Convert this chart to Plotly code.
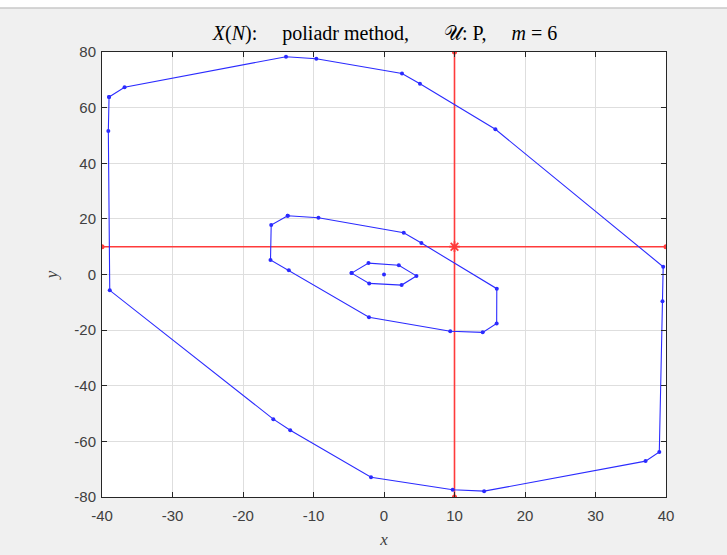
import plotly.graph_objects as go

# Outer polygon vertices (closed)
outer_x = [-39.0, -36.8, -13.9, -9.6, 2.55, 5.1, 15.8, 39.6, 39.5, 39.05, 37.1,
           14.2, 9.74, -1.84, -13.3, -15.7, -38.9, -39.1, -39.0]
outer_y = [63.8, 67.3, 78.3, 77.6, 72.3, 68.6, 52.2, 2.8, -9.6, -63.8, -67.1,
           -77.9, -77.4, -72.9, -56.0, -52.0, -5.7, 51.6, 63.8]

# Middle polygon vertices (closed)
mid_x = [-13.66, -9.3, 2.8, 5.3, 16.0, 15.98, 14.0, 9.4, -2.13, -13.5, -16.1, -16.0, -13.66]
mid_y = [21.1, 20.4, 15.0, 11.3, -5.1, -17.6, -20.8, -20.4, -15.4, 1.5, 5.2, 17.8, 21.1]

# Inner hexagon (closed)
inner_x = [-4.6, -2.2, 2.1, 4.6, 2.5, -2.1, -4.6]
inner_y = [0.5, 4.1, 3.3, -0.5, -3.8, -3.2, 0.5]

# Centre point
center_x = [0.0]
center_y = [0.0]

# Target point and its cross-hair
target_x = 10
target_y = 10
x_range = [-40, 40]
y_range = [-80, 80]

x_ticks = [-40, -30, -20, -10, 0, 10, 20, 30, 40]
y_ticks = [-80, -60, -40, -20, 0, 20, 40, 60, 80]
x_ticktext = ["-40", "-30", "-20", "-10", "0", "10", "20", "30", "40"]
y_ticktext = ["-80", "-60", "-40", "-20", "0", "20", "40", "60", "80"]

blue = "#2b2bff"
red = "#ff3b3b"

fig = go.Figure()

# Cross-hair lines through the target
fig.add_trace(go.Scatter(x=x_range, y=[target_y, target_y], mode="lines+markers",
                         line=dict(color=red, width=1.6),
                         marker=dict(color=red, size=5), hoverinfo="skip"))
fig.add_trace(go.Scatter(x=[target_x, target_x], y=y_range, mode="lines+markers",
                         line=dict(color=red, width=1.6),
                         marker=dict(color=red, size=5), hoverinfo="skip"))

for xs, ys in [(outer_x, outer_y), (mid_x, mid_y), (inner_x, inner_y)]:
    fig.add_trace(go.Scatter(x=xs, y=ys, mode="lines+markers",
                             line=dict(color=blue, width=1.1),
                             marker=dict(color=blue, size=4)))

fig.add_trace(go.Scatter(x=center_x, y=center_y, mode="markers",
                         marker=dict(color=blue, size=4)))

fig.add_trace(go.Scatter(x=[target_x], y=[target_y], mode="markers",
                         marker=dict(symbol="asterisk-open", color=red, size=9,
                                     line=dict(color=red, width=1.8))))

axis_common = dict(
    showgrid=True, gridcolor="#dedede", gridwidth=1,
    showline=True, linecolor="#262626", linewidth=1, mirror="ticks",
    ticks="inside", ticklen=5, tickcolor="#262626",
    tickfont=dict(family="Liberation Sans, Arial, sans-serif", size=15, color="#404040"),
    zeroline=False, automargin=False,
)

nb = "&nbsp;"
title_text = (f"<i>X</i>(<i>N</i>):{nb * 5}poliadr method,{nb * 7}𝒰: P,{nb * 5}"
              f"<i>m</i>{nb}={nb}6")

fig.update_layout(
    width=727, height=555,
    margin=dict(l=102, r=61, t=52, b=58),
    paper_bgcolor="#f0f0f0", plot_bgcolor="white",
    showlegend=False,
    title=dict(
        text=title_text,
        x=0.5296, xanchor="center", y=1 - 33 / 555, yanchor="middle",
        font=dict(family="Liberation Serif, Times New Roman, serif", size=20, color="#000000"),
    ),
    xaxis=dict(range=x_range, tickvals=x_ticks, ticktext=x_ticktext, ticklabelstandoff=5,
               **axis_common,
               title=dict(text="<i>x</i>", standoff=10,
                          font=dict(family="Liberation Serif, serif", size=17, color="#404040"))),
    yaxis=dict(range=y_range, tickvals=y_ticks, ticktext=y_ticktext, ticklabelstandoff=2,
               **axis_common,
               title=dict(text="<i>y</i>", standoff=12,
                          font=dict(family="Liberation Serif, serif", size=17, color="#404040"))),
    shapes=[
        dict(type="rect", xref="paper", yref="paper", x0=-0.19, x1=1.12,
             y0=(497 - 8) / 445, y1=1.2, fillcolor="white", line=dict(width=0),
             layer="below"),
        dict(type="line", xref="paper", yref="paper", x0=-0.19, x1=1.12,
             y0=(497 - 8) / 445, y1=(497 - 8) / 445, line=dict(color="#c8c8c8", width=1.5)),
    ],
)

fig.write_html("out.html")
